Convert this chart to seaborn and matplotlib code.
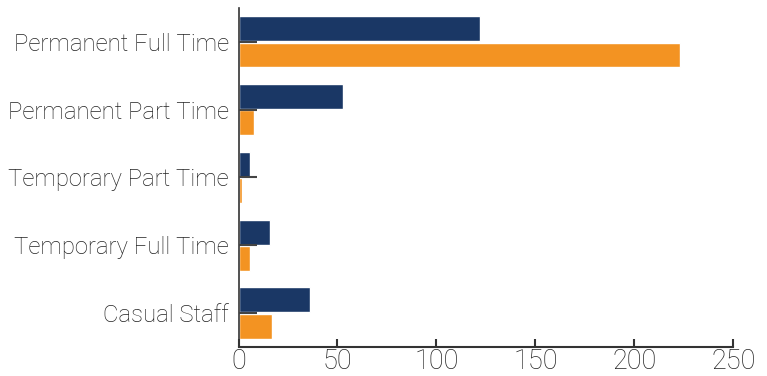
import matplotlib
matplotlib.use("Agg")
import matplotlib.pyplot as plt
import seaborn as sns
import pandas as pd

categories = ["Permanent Full Time", "Permanent Part Time", "Temporary Part Time",
              "Temporary Full Time", "Casual Staff"]
series_names = ["Series A", "Series B"]
series_a = [122, 53, 6, 16, 36]
series_b = [223, 8, 2, 6, 17]
x_ticks = [0, 50, 100, 150, 200, 250]

df = pd.DataFrame({
    "category": categories * 2,
    "series": [series_names[0]] * len(categories) + [series_names[1]] * len(categories),
    "value": series_a + series_b,
})

sns.set_theme(style="white")
plt.rcParams["font.family"] = ["Roboto", "DejaVu Sans"]
plt.rcParams["font.weight"] = "light"

fig = plt.figure(figsize=(7.67, 3.76), dpi=100)
ax = fig.add_axes([0.311, 0.077, 0.645, 0.902])

sns.barplot(data=df, y="category", x="value", hue="series", order=categories,
            palette=["#1a3765", "#f39322"], width=0.78, gap=0.06, orient="h",
            saturation=1, ax=ax, legend=False)

ax.set_xlim(0, 250)
ax.set_xticks(x_ticks)
ax.set_xlabel("")
ax.set_ylabel("")
for s in ["top", "right"]:
    ax.spines[s].set_visible(False)
ax.spines["left"].set_color("#333333")
ax.spines["bottom"].set_color("#333333")
ax.spines["left"].set_linewidth(1.2)
ax.spines["bottom"].set_linewidth(1.5)
ax.tick_params(axis="x", bottom=True, direction="in", length=6, width=1.5, color="#333333",
               labelsize=19.5, labelcolor="#222222", pad=1)
ax.tick_params(axis="y", left=True, direction="in", length=13, width=1.5, color="#444444",
               labelsize=17.2, labelcolor="#222222", pad=7)
ax.set_axisbelow(False)

fig.savefig("out.png", dpi=100)
